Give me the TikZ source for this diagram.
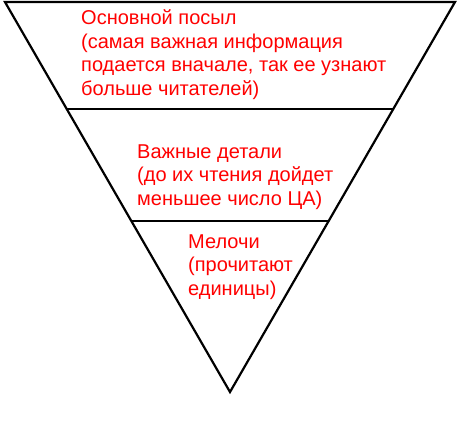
\documentclass[tikz,border=0pt]{standalone}
\usepackage{fontspec}
\setmainfont{Liberation Sans}
\usetikzlibrary{calc,positioning}
\tikzset{edge/.style={line width=2.2pt,draw=black,line join=miter},note/.style={text=red,align=left,inner sep=0pt,anchor=base west,font=\fontsize{20}{23.5}\selectfont}}

\begin{document}
\begin{tikzpicture}[x=1pt,y=-1pt]
\useasboundingbox (0,0) rectangle (470,432);

\coordinate (tl) at (5,2);
\coordinate (tr) at (455,2);
\coordinate (ap) at (230,392);
\coordinate (al) at ($(tl)!0.274!(ap)$);
\coordinate (ar) at ($(tr)!0.274!(ap)$);
\coordinate (bl) at ($(tl)!0.562!(ap)$);
\coordinate (br) at ($(tr)!0.562!(ap)$);

\draw[edge] (tl) -- (tr) -- (ap) -- cycle;
\draw[edge] (al) -- (ar);
\draw[edge] (bl) -- (br);

% base anchor sits on the last line
\node[note] (main) at (81,95) {Основной посыл\\(самая важная информация\\подается вначале, так ее узнают\\больше читателей)};
\node[note] (details) at (137,205) {Важные детали\\(до их чтения дойдет\\меньшее число ЦА)};
\node[note] (trifles) at (188,295) {Мелочи\\(прочитают\\единицы)};
\end{tikzpicture}
\end{document}
